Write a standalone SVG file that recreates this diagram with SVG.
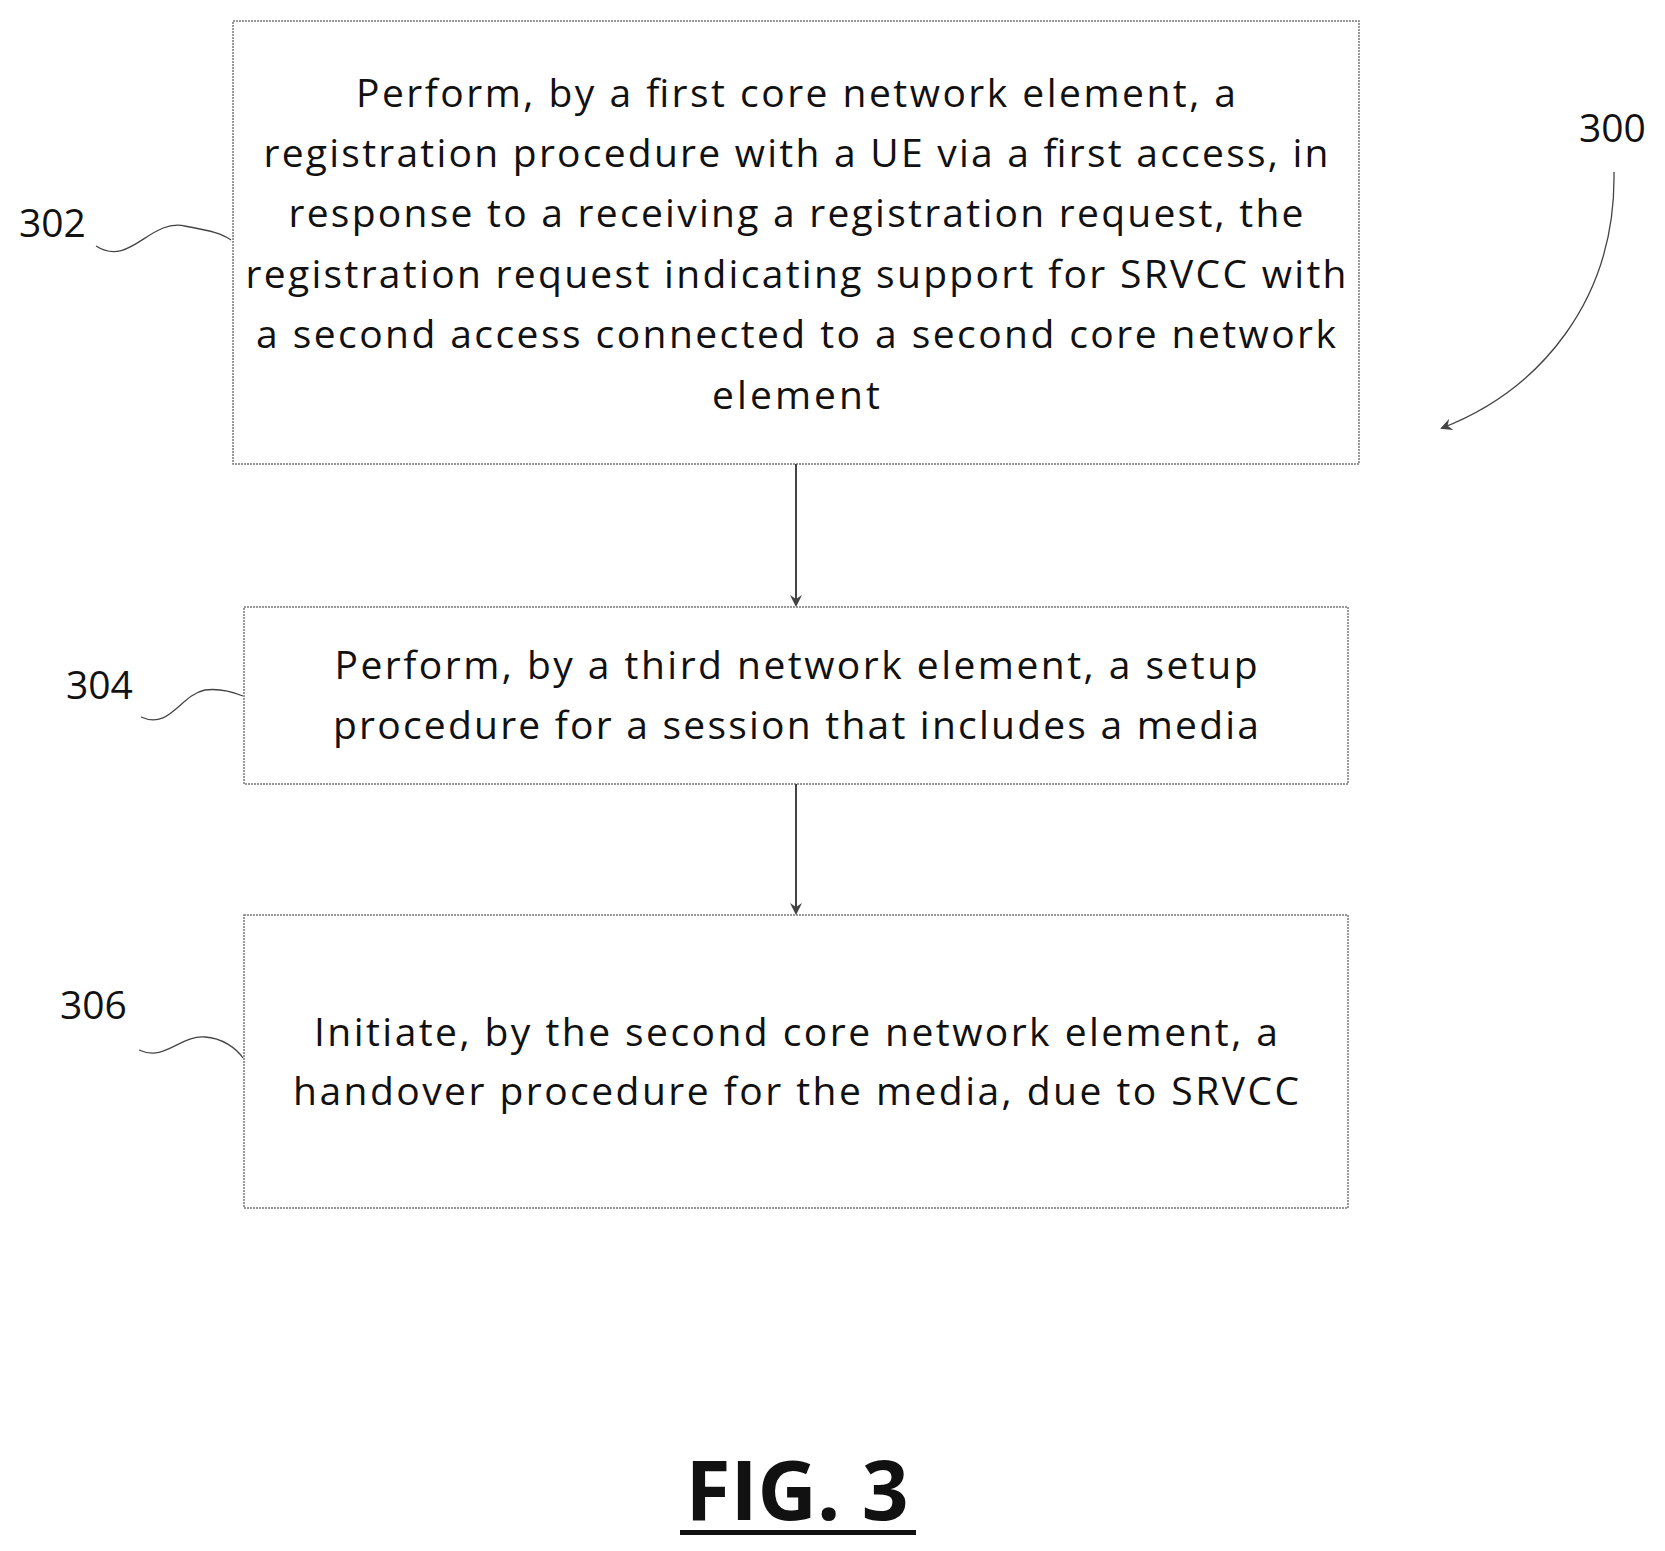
<svg xmlns="http://www.w3.org/2000/svg" width="1665" height="1551" viewBox="0 0 1665 1551">
<style>
.box{fill:#fff;stroke:#777;stroke-width:1.5;stroke-dasharray:2 1}
.t{font-family:"Open Sans","Liberation Sans",sans-serif;font-size:39px;fill:#111;text-anchor:middle}
.l{font-family:"Open Sans","Liberation Sans",sans-serif;font-size:39px;fill:#111}
.c{fill:none;stroke:#444;stroke-width:2}
.s{fill:none;stroke:#444;stroke-width:1.3}
</style>
<defs><marker id="ah" markerWidth="12" markerHeight="12" refX="10" refY="6" orient="auto" markerUnits="userSpaceOnUse"><path d="M0,0 L12,6 L0,12 L4,6 Z" fill="#444"/></marker></defs>
<rect width="1665" height="1551" fill="#fff"/>
<g id="n302"><rect class="box" x="233" y="21" width="1126" height="443"/>
<text class="t" x="796" y="107" textLength="880">Perform, by a first core network element, a</text>
<text class="t" x="796" y="167" textLength="1065">registration procedure with a UE via a first access, in</text>
<text class="t" x="796" y="227" textLength="1015">response to a receiving a registration request, the</text>
<text class="t" x="796" y="288" textLength="1101">registration request indicating support for SRVCC with</text>
<text class="t" x="796" y="348" textLength="1080">a second access connected to a second core network</text>
<text class="t" x="796" y="409" textLength="168">element</text></g>
<g id="n304"><rect class="box" x="244" y="607" width="1104" height="177"/>
<text class="t" x="796" y="679" textLength="923">Perform, by a third network element, a setup</text>
<text class="t" x="796" y="739" textLength="926">procedure for a session that includes a media</text></g>
<g id="n306"><rect class="box" x="244" y="915" width="1104" height="293"/>
<text class="t" x="796" y="1046" textLength="964">Initiate, by the second core network element, a</text>
<text class="t" x="796" y="1105" textLength="1006">handover procedure for the media, due to SRVCC</text></g>
<g id="labels">
<text class="l" x="19" y="237">302</text>
<text class="l" x="66" y="699">304</text>
<text class="l" x="60" y="1019">306</text>
<text class="l" x="1579" y="142">300</text>
<path class="s" d="M96,246 C130,268 150,218 185,226 C205,230 220,232 231,240"/>
<path class="s" d="M141,717 C170,730 180,695 205,690 C220,688 233,692 243,696"/>
<path class="s" d="M139,1050 C165,1062 180,1035 205,1037 C222,1038 236,1048 243,1058"/>
</g>
<g id="connectors">
<path class="c" d="M796,464 V605" marker-end="url(#ah)"/>
<path class="c" d="M796,784 V913" marker-end="url(#ah)"/>
<path class="s" d="M1614,172 C1616,300 1540,390 1442,428" marker-end="url(#ah)"/>
</g>
<g id="fig"><text x="797" y="1520" font-family="Open Sans,Liberation Sans,sans-serif" font-weight="bold" font-size="82" text-anchor="middle" fill="#111">FIG. 3</text>
<rect x="680" y="1530" width="236" height="5" fill="#111"/></g>
</svg>
